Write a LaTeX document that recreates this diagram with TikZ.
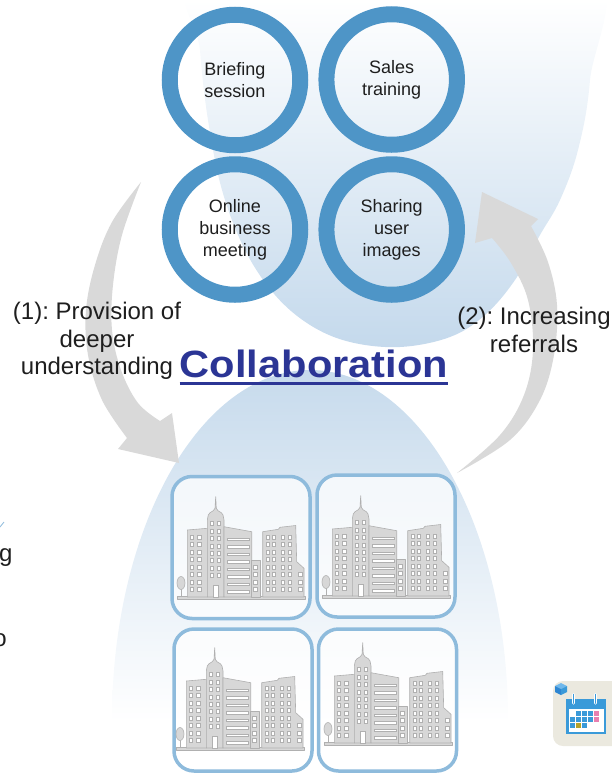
\documentclass[tikz,border=0pt]{standalone}
\usepackage{fontspec}
\setmainfont{Liberation Sans}
\frenchspacing
\definecolor{ringblue}{HTML}{4E95C7}
\definecolor{topblue}{HTML}{C4D9EC}
\definecolor{domeblue}{HTML}{C6DAEC}
\definecolor{arrowgray}{HTML}{D9D9D9}
\definecolor{boxblue}{HTML}{8EBBDC}
\definecolor{bldgfill}{HTML}{D7D7D7}
\definecolor{bldgline}{HTML}{B0B0B0}
\definecolor{txt}{HTML}{1E1E1E}
\definecolor{collab}{HTML}{2B3595}
\definecolor{calbeige}{HTML}{EBE9DF}
\definecolor{calblue}{HTML}{3A9AD9}
\definecolor{calpink}{HTML}{E87FB0}
\definecolor{calolive}{HTML}{B4A22A}
\definecolor{cubelight}{HTML}{6FB8EC}
\definecolor{cubedark}{HTML}{2E86D2}

\tikzset{
  bldg/.style={fill=bldgfill, draw=bldgline, line width=0.6pt, line join=round},
  win/.style={fill=white, draw=bldgline, line width=0.4pt},
  % small city skyline, local origin = top left of its frame, y pointing down
  city/.pic={
    % ground strip
    \filldraw[bldg] (7,121.5) rectangle (135,124);
    % tree
    \draw[bldgline, line width=1pt] (11,112) -- (11,122);
    \filldraw[bldg] (11,108) ellipse [x radius=4, y radius=6.5];
    % left block
    \filldraw[bldg] (17.3,122) -- (17.3,55) -- (37.3,53.3) -- (37.3,122) -- cycle;
    \foreach \r in {0,...,7}{
      \foreach \c in {20.2,27.6}{
        \filldraw[win] (\c,60+7.5*\r) rectangle ++(3.2,4);
      }
    }
    % tower with spire
    \filldraw[bldg] (37.3,122) -- (37.3,45) -- (38.3,40) -- (40,37.7) -- (43.3,35.7)
      -- (45,33.3) -- (45.7,21.7) -- (46.3,33.3) -- (48,35.7) -- (51.3,37.7)
      -- (53,40) -- (54,45) -- (54,122) -- cycle;
    \foreach \r in {0,...,7}{
      \foreach \c in {40.2,47.4}{
        \filldraw[win] (\c,46.5+7.4*\r) rectangle ++(3.2,4);
      }
    }
    \filldraw[win] (42.7,110) rectangle (48.3,122);
    % middle block with strip windows
    \filldraw[bldg] (54,122) -- (54,51.7) -- (81.7,56.7) -- (81.7,122) -- cycle;
    \foreach \r in {0,...,7}{
      \filldraw[win] (57.3,63+7.5*\r) rectangle ++(22,2.4);
    }
    % low annex
    \filldraw[bldg] (81.7,122) -- (81.7,85) -- (90,85) -- (90,122) -- cycle;
    \foreach \r in {0,...,3}{
      \filldraw[win] (83.6,90+7.5*\r) rectangle ++(3.2,4);
    }
    % right block
    \filldraw[bldg] (92.7,122) -- (92.7,56.7) -- (108.3,54.3) -- (110,52.3) -- (125.7,50.5)
      -- (126.7,86.7) -- (134,93.3) -- (134,122) -- cycle;
    \foreach \r in {0,...,7}{
      \foreach \c in {95.7,102.4,111.1,117.7}{
        \filldraw[win] (\c,60+7.5*\r) rectangle ++(3.2,4);
      }
    }
    \foreach \r in {5,6,7}{
      \filldraw[win] (128.5,60+7.5*\r) rectangle ++(3.2,4);
    }
  },
}

\begin{document}
\begin{tikzpicture}[x=1pt, y=-1pt,
  ring/.style={circle, draw=ringblue, line width=16pt, minimum size=130.5pt,
    inner sep=0pt, align=center, font=\fontsize{18}{22}\selectfont, text=txt},
  citybox/.style={draw=boxblue, line width=3.5pt, rounded corners=20pt,
    fill=white, fill opacity=0.72, minimum width=138pt, minimum height=142pt,
    inner sep=0pt},
  steplabel/.style={align=center, font=\fontsize{24}{27.5}\selectfont,
    text=txt, inner sep=0pt},
  edgetext/.style={font=\fontsize{24}{27.5}\selectfont, text=txt, inner sep=0pt},
]
\useasboundingbox (0,0) rectangle (612,774);
\clip (0,0) rectangle (612,774);

% upper backdrop, hanging from the top edge
\begin{scope}
  \clip plot[smooth cycle, tension=0.6] coordinates {
    (195,-40) (200,50) (208,120) (222,190) (245,250) (275,295) (310,325)
    (350,342) (400,347) (450,337) (485,315) (515,280) (540,235) (560,200)
    (578,150) (590,80) (594,-40) (400,-70)};
  \shade[top color=white, bottom color=topblue] (150,0) rectangle (612,348);
\end{scope}

% lower backdrop, rising from the bottom edge
\begin{scope}
  \clip (310,720) ellipse [x radius=198, y radius=350];
  \shade[top color=domeblue, bottom color=white] (100,368) rectangle (520,722);
\end{scope}

% curved arrow (1), left side, pointing down to the companies
\fill[arrowgray] plot[smooth, tension=0.6] coordinates {
    (141,182) (112,222) (95,265) (86,310) (88,355) (102,400) (127,438)}
  -- (118,449) -- (179,463) -- (172,413) -- (160,421)
  -- plot[smooth, tension=0.6] coordinates {
    (160,421) (138,403) (121,370) (112,330) (113,285) (122,235) (141,182)}
  -- cycle;

% curved arrow (2), right side, pointing back up to the activities
\fill[arrowgray] plot[smooth, tension=0.6] coordinates {
    (457,473) (500,435) (524,395) (533,350) (528,300) (511,263) (492,238)}
  -- (475,243) -- (482,192) -- (538,219) -- (531,226)
  -- plot[smooth, tension=0.6] coordinates {
    (531,226) (548,262) (557,305) (554,355) (540,400) (510,440) (457,473)}
  -- cycle;

% activity rings
\node[ring] (brief)   at (235,80)    {Briefing\\session};
\node[ring] (sales)   at (391.7,79.5) {Sales\\training};
\node[ring] (online)  at (235,229.5) {Online\\business\\meeting};
\node[ring] (sharing) at (391.7,229.5) {Sharing\\user\\images};

% company frames
\node[citybox] (c1) at (241,547.5) {};
\node[citybox] (c2) at (386,546) {};
\node[citybox] (c3) at (243,700) {};
\node[citybox] (c4) at (387.5,700) {};
\pic at (170,475) {city};
\pic at (315,474) {city};
\pic at (169,626) {city};
\pic at (317,621) {city};

% step labels
\node[steplabel] (lab1) at (97,341) {(1): Provision of\\deeper\\understanding};
\node[steplabel] (lab2) at (534,330) {(2): Increasing\\referrals};

% headline
\node[anchor=base, inner sep=0pt, text=collab,
  font=\fontsize{38}{40}\bfseries\selectfont] (collab) at (314,377)
  {\scalebox{1.095}[1]{Collaboration}};
\draw[collab, line width=2.2pt] ([yshift=-6.5pt]collab.base west) -- ([yshift=-6.5pt]collab.base east);

% text running off the left edge
\node[edgetext, anchor=base east] (tailg) at (12.6,561) {g};
\node[edgetext, anchor=base east] (tailo) at (7,646) {o};
\draw[boxblue, line width=0.8pt] (0,527) -- (4,522);

% calendar tile
\fill[calbeige, rounded corners=10pt] (553,681) rectangle (630,746);
\fill[cubelight] (561,683) -- (567,686) -- (561,689) -- (555,686) -- cycle;
\fill[cubedark] (555,686) -- (561,689) -- (561,695) -- (555,692) -- cycle;
\fill[calblue] (561,689) -- (567,686) -- (567,692) -- (561,695) -- cycle;
\fill[calblue] (566,699) rectangle (606,734);
\fill[white] (568.5,708.5) rectangle (603.5,731.5);
\foreach \x in {573.5,595.5}{
  \draw[white, line width=3.2pt, line cap=round] (\x,694.5) -- (\x,703);
  \draw[calblue, line width=1.6pt, line cap=round] (\x,694.5) -- (\x,703);
}
\foreach \x in {576,582,588}{\fill[calblue] (\x,711) rectangle ++(4.5,4.5);}
\fill[calpink] (594,711) rectangle ++(4.5,4.5);
\foreach \x in {570,576,582,588}{\fill[calblue] (\x,717) rectangle ++(4.5,4.5);}
\fill[calpink] (594,717) rectangle ++(4.5,4.5);
\fill[calblue] (570,723) rectangle ++(4.5,4.5);
\fill[calolive] (576,723) rectangle ++(4.5,4.5);
\fill[calblue] (582,723) rectangle ++(4.5,4.5);
\end{tikzpicture}
\end{document}
